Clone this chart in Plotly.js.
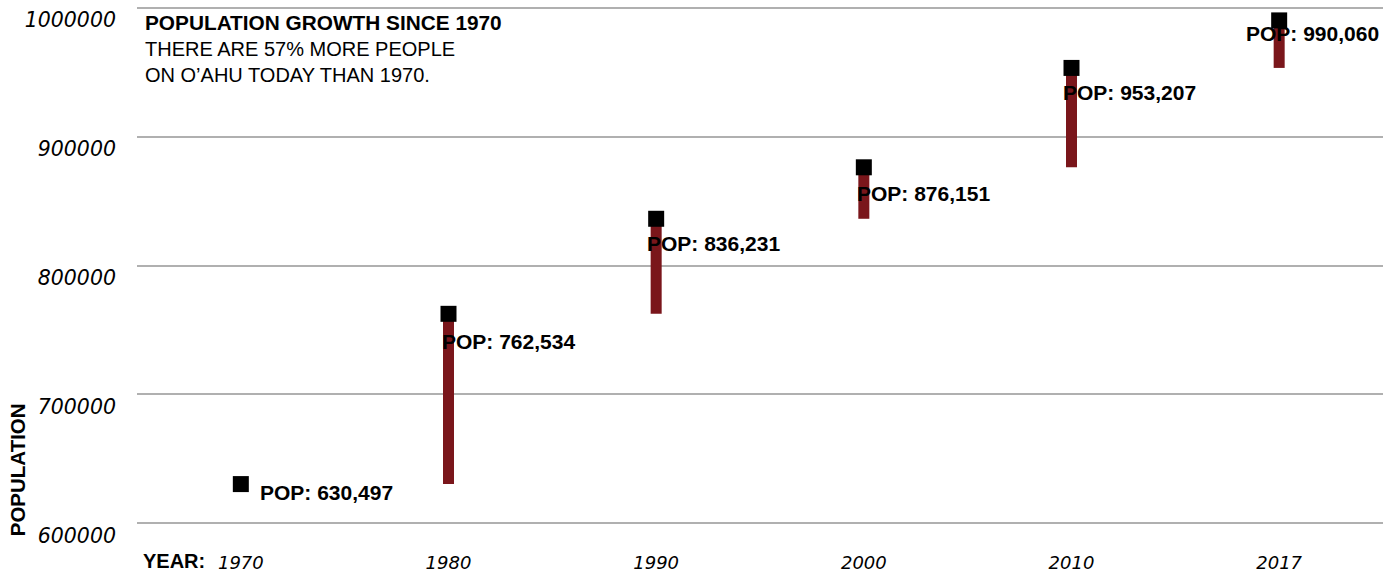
<!DOCTYPE html>
<html>
<head>
<meta charset="utf-8">
<script src="https://cdn.plot.ly/plotly-3.0.1.min.js"></script>
<style>
  html, body { margin: 0; padding: 0; background: #ffffff; }
  #chart { width: 1398px; height: 573px; }
</style>
</head>
<body>
<div id="chart"></div>
<script>
// ---- data ----
var years = ['1970', '1980', '1990', '2000', '2010', '2017'];
var population = [630497, 762534, 836231, 876151, 953207, 990060];
var yTickValues = [600000, 700000, 800000, 900000, 1000000];
var titleLines = ['POPULATION GROWTH SINCE 1970', 'THERE ARE 57% MORE PEOPLE', 'ON O\u2019AHU TODAY THAN 1970.'];

// ---- styles ----
var barColor = '#7a161b';
var labelXShift = [17, -9, -11, -9, -11, -35];
var labelYShift = [-8, -28, -25, -26, -25, -13];

function fmt(n) { return n.toLocaleString('en-US'); }

var barBase = population.map(function (v, i) { return i === 0 ? v : population[i - 1]; });
var barLen = population.map(function (v, i) { return i === 0 ? 0 : v - population[i - 1]; });

var bars = {
  type: 'bar', x: years, y: barLen, base: barBase,
  width: 0.053, marker: { color: barColor, line: { width: 0 } },
  hoverinfo: 'skip', showlegend: false
};
var points = {
  type: 'scatter', mode: 'markers', x: years, y: population,
  marker: { symbol: 'square', size: 16, color: '#000000', line: { width: 0 } },
  showlegend: false
};

var annotations = population.map(function (v, i) {
  return {
    x: i, y: v, xref: 'x', yref: 'y',
    text: '<b>POP: ' + fmt(v) + '</b>', showarrow: false,
    xanchor: 'left', yanchor: 'middle',
    xshift: labelXShift[i], yshift: labelYShift[i],
    font: { family: 'Arial, "Liberation Sans", sans-serif', size: 21, color: '#000000' }
  };
});
annotations.push({
  xref: 'paper', yref: 'paper', x: 0.0048, y: 1, yshift: -4,
  xanchor: 'left', yanchor: 'top', align: 'left', showarrow: false,
  text: '<span style="font-size:20.8px"><b>' + titleLines[0] + '</b></span><br>' + titleLines[1] + '<br>' + titleLines[2],
  font: { family: 'Arial, "Liberation Sans", sans-serif', size: 20, color: '#000000' }
});
annotations.push({
  xref: 'paper', yref: 'paper', x: 0.056, y: -0.068,
  xanchor: 'right', yanchor: 'middle', showarrow: false,
  text: '<b>YEAR:</b>',
  font: { family: 'Arial, "Liberation Sans", sans-serif', size: 20, color: '#000000' }
});
annotations.push({
  xref: 'paper', yref: 'paper', x: -0.0963, y: 0.107,
  xanchor: 'center', yanchor: 'middle', showarrow: false, textangle: -90,
  text: '<b>POPULATION</b>',
  font: { family: 'Arial, "Liberation Sans", sans-serif', size: 20.5, color: '#000000' }
});

var layout = {
  width: 1398, height: 573,
  margin: { l: 137, r: 15, t: 5, b: 47, pad: 0 },
  paper_bgcolor: '#ffffff', plot_bgcolor: '#ffffff',
  barmode: 'overlay',
  xaxis: {
    type: 'category', range: [-0.5, 5.5],
    showgrid: false, zeroline: false, showline: false, ticks: '',
    ticklabelstandoff: 24,
    tickfont: { family: '"DejaVu Sans", sans-serif', size: 18, style: 'italic', color: '#000000' }
  },
  yaxis: {
    range: [598000, 1002000], tickmode: 'array', tickvals: yTickValues,
    ticktext: yTickValues.map(String),
    showgrid: true, gridcolor: '#b0b0b0', gridwidth: 2,
    zeroline: false, showline: false, ticks: '',
    ticklabelstandoff: 20, ticklabelshift: 12,
    tickfont: { family: '"DejaVu Sans", sans-serif', size: 20.5, style: 'italic', color: '#000000' }
  },
  annotations: annotations,
  showlegend: false
};

Plotly.newPlot('chart', [bars, points], layout, { displayModeBar: false, staticPlot: true });
</script>
</body>
</html>
